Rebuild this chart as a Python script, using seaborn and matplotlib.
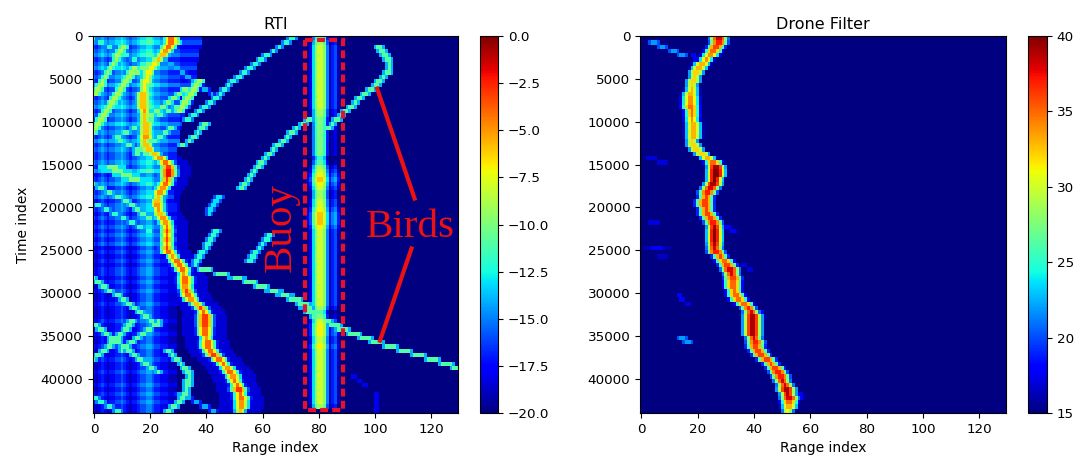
import numpy as np
import pandas as pd
import matplotlib
matplotlib.use("Agg")
import matplotlib.pyplot as plt
from matplotlib.patches import Rectangle
import seaborn as sns

# one row of cells = 500 time samples, one column = 1 range bin
n_rows = 88
n_cols = 130
time_step = 500

# drone range, one value per row
drone_range = [28, 28, 27, 26, 25, 23.5, 22, 21, 20, 19.5, 19, 18.5, 18.5, 18, 18, 18, 18, 18.5, 18.5, 18.5,
               19, 19, 19, 19, 18.5, 19, 20, 22, 24, 26, 27, 27, 27, 26.5, 26, 25, 24, 23.5, 23, 23,
               23.5, 24, 25, 26, 26.5, 26.5, 26.5, 26.5, 26.5, 26.5, 27, 28.5, 30, 31, 32, 32.5, 33, 33, 33, 33.5,
               34, 35, 37, 38.5, 39.5, 40, 40, 40, 40, 40, 40.5, 41, 41, 42, 43, 45, 46.5, 48, 49, 50,
               50.5, 51.5, 52, 52.5, 53, 53, 53, 52.5]
# filter output peak, dB
drone_peak = [38, 37, 36, 35, 34, 34, 33, 33, 32, 32, 32, 32, 33, 33, 34, 34, 35, 35, 35, 34,
              33, 33, 33, 33, 32, 32, 32, 32, 33, 35, 39, 40, 40, 40, 39, 38, 37, 36, 36, 36,
              36, 36, 36, 37, 39, 40, 40, 40, 39, 38, 37, 36, 35, 36, 38, 38, 36, 35, 35, 35,
              35, 35, 35, 37, 38, 39, 39, 39, 39, 39, 38, 37, 36, 36, 36, 36, 36, 36, 37, 37,
              38, 38, 39, 39, 38, 35, 33, 31]
# same drone in the RTI, dB
rti_peak = [-4, -4, -4, -5, -6, -6, -7, -7, -7, -7, -7, -7, -7, -6, -6, -6, -6, -5, -6, -6,
            -6, -6, -6, -5, -6, -6, -6, -6, -5, -4, -3, -2, -2, -3, -4, -5, -5, -6, -6, -5,
            -5, -6, -5, -5, -4, -3, -4, -3, -4, -3, -4, -5, -4, -4, -4, -5, -4, -4, -5, -3,
            -4, -5, -6, -3, -4, -3, -3, -3, -4, -4, -5, -4, -4, -4, -3, -4, -4, -5, -4, -5,
            -4, -4, -3, -4, -4, -5, -5, -6]
# buoy brightness per row
buoy_peak = [-10, -9, -8, -8, -8, -8, -8, -8, -8, -8, -8, -8, -8, -8, -8, -8, -8, -9, -9, -10,
             -10, -10, -10, -10, -10, -10, -10, -10, -12, -11, -9, -8, -7, -6, -7, -8, -9, -9, -8, -8,
             -7, -6, -6, -6, -7, -8, -8, -8, -8, -8, -8, -8, -8, -8, -8, -8, -8, -8, -8, -8,
             -8, -8, -8, -9, -11, -10, -8, -7, -7, -7, -8, -8, -7, -8, -8, -8, -8, -8, -8, -8,
             -8, -8, -8, -8, -8, -8, -9, -20]
# brightness across the buoy, columns 76..87
buoy_cols = list(range(76, 88))
buoy_shape = [-12, -10, -5, -2, 0, 0, -2, -7, -11, -9, -8, -11]

# clutter near the radar: how far it reaches, level per row, stripes per column
clutter_edge = [39, 39, 39, 38, 38, 38, 37, 37, 37, 37, 38, 38, 37, 37, 36, 36, 35, 34, 33, 33,
                32, 32, 31, 31, 31, 30, 30, 30, 30, 30, 30, 29, 29, 29, 29, 29, 29, 29, 29, 30,
                30, 30, 30, 30, 30, 30, 30, 30, 30, 30, 30, 30, 30, 30, 30, 30, 30, 30, 30, 30,
                30, 30, 30, 30, 30, 30, 30, 30, 30, 30, 30, 30, 30, 30, 30, 30, 30, 30, 30, 30,
                30, 30, 30, 30, 30, 30, 30, 30]
clutter_level = [-15, -14, -16, -15, -14, -16, -15, -14, -16, -15, -16, -14, -16, -15, -16, -15, -14, -16, -15, -16,
                 -14, -16, -15, -16, -14, -16, -15, -16, -16, -15, -16, -14, -17, -16, -15, -17, -16, -15, -17, -16,
                 -16, -17, -16, -17, -16, -17, -16, -17, -16, -18, -17, -18, -17, -18, -17, -17, -18, -17, -18, -17,
                 -18, -18, -17, -18, -18, -18, -17, -18, -18, -17, -18, -18, -17, -18, -18, -17, -18, -18, -17, -18,
                 -18, -17, -18, -17, -18, -17, -18, -18]
clutter_cols = [0, -1, 0, 1, 0, -1, 0, 0, 1, 1, 2, 1, 0, -1, 0, 0, 1, 2, 2, 3,
                3, 2, 1, 1, 0, 0, 0, -1, -1, -1, -1, -2, -2, -2, -2, -2, -2, -2, -2, -2]

# faint tracks: start time, level, half width in bins, range per row
rti_tracks = [
    (250, -12, 0.9, [71, 69, 66.5, 64.5, 62, 60, 58, 56, 54, 52, 50, 48.5, 47, 45.5, 44, 42, 40, 38, 36, 34]),
    (10250, -11, 0.9, [40, 39, 37.5, 36, 34.5, 32]),
    (1250, -11, 0.9, [102, 103, 104, 105, 105.5, 105.5, 105, 103.5, 102, 101, 99, 97, 95, 93.5, 92, 90, 88.5, 87, 85.5, 84]),
    (9250, -11, 0.9, [80, 77, 75, 72.5, 71, 69.5, 68, 66, 64.5, 63, 61.5, 60, 59, 57.5, 56.5, 55.5, 54, 53]),
    (18750, -13, 0.9, [45, 44, 43, 42, 41.5]),
    (22750, -12, 0.9, [44, 43, 42, 41, 40.5, 39, 38, 37, 36.5]),
    (23250, -12, 0.9, [63, 62, 60.5, 59.5, 58, 57, 56]),
    (27250, -11, 1.7, [40, 46, 51.5, 56, 60, 64.5, 68.5, 72, 75, 76.5, 78, 80, 83, 86, 89, 93, 97, 101, 106, 111, 116, 121, 126, 130]),
    (1250, -9, 1, [11, 10, 9, 8.5, 7.5, 6.5, 5.5, 4.5, 3.5, 3, 2, 1]),
    (3750, -9, 1, [15, 14, 13, 12, 11, 10, 9, 8, 7, 6, 5, 4, 3, 2, 1, 0]),
    (5250, -9, 1, [38, 37, 36, 35, 34, 33, 32, 31]),
    (2250, -14, 1, [24, 26, 28, 30, 32, 34, 36, 38, 40, 42.5]),
    (250, -12, 1, [0, 3, 6, 9, 12, 15, 18, 20]),
    (500, -10, 1, [30, 28, 26, 24, 22, 20, 18, 16]),
    (6250, -10, 1, [33, 31, 29, 27, 25, 23, 21]),
    (8250, -11, 1, [30, 27, 24, 21, 18, 15, 12, 9]),
    (10750, -11, 1, [28, 26, 24, 22, 20, 18, 16]),
    (12250, -11, 1, [10, 13, 16, 19, 22, 25, 27]),
    (15250, -10, 2.5, [7, 9, 12, 15]),
    (17250, -11, 1, [0, 3, 6, 9, 12, 14, 16, 18, 20]),
    (19750, -12, 1, [2, 5, 8, 11, 14, 17, 20]),
    (28000, -11, 0.9, [0, 2, 4, 6, 9, 11, 13, 15, 17, 19, 21, 23.5]),
    (33500, -11, 0.9, [1, 3, 5, 7, 9, 11, 13, 15, 17, 19, 21, 23.5]),
    (33000, -11, 0.9, [14, 13, 12, 10, 9, 7, 6, 4, 2, 0]),
    (33250, -11, 0.9, [23.5, 22, 20, 18, 16, 14, 12, 10.5]),
    (36500, -11, 0.9, [27, 28.5, 30, 31.5, 33, 34, 34.5, 34.3, 34, 33.5, 33, 32, 31, 29, 27, 25.5, 24, 22.5, 20]),
    (41500, -14, 0.9, [31, 34, 37, 40, 43, 46, 49, 51]),
    (42250, -12, 0.9, [1, 3, 6, 9, 12, 16]),
    (39750, -18, 0.9, [93, 95, 97]),
    (41750, -18, 0.7, [101, 101, 101, 101, 101]),
]
filter_tracks = [
    (750, 22, 1.2, [5, 8, 12, 15]),
    (2250, 18, 0.7, [19, 20]),
    (14250, 17, 2.5, [4, 8]),
    (21750, 17, 2.5, [5]),
    (24500, 18, 2.5, [6]),
    (25500, 16.5, 2.5, [8]),
    (30250, 18, 0.7, [14, 15]),
    (31250, 17, 0.6, [17]),
    (35250, 22, 1.2, [15, 17]),
    (26500, 17, 1, [37, 39]),
    (32000, 18, 0.6, [43, 43.5]),
    (22250, 18, 1, [31, 33]),
    (41750, 18, 0.6, [57, 57.5]),
]

range_ticks = [0, 20, 40, 60, 80, 100, 120]
time_ticks = [0, 5000, 10000, 15000, 20000, 25000, 30000, 35000, 40000]
rti_cbar_ticks = [0.0, -2.5, -5.0, -7.5, -10.0, -12.5, -15.0, -17.5, -20.0]
filter_cbar_ticks = [15, 20, 25, 30, 35, 40]

# annotation coordinates, data units (range, time)
buoy_box = (75.5, 450, 13.5, 43200)
bird_lines = [((101, 5900), (114.8, 19200)), ((102, 35800), (113.7, 24560))]


def paint(grid, row, center, level, drop, spread=1.0):
    # brighten the cells around one reading, never dim them
    for col in range(n_cols):
        d = abs(col + 0.5 - center) / spread
        i = int(d)
        if i < len(drop):
            grid[row, col] = max(grid[row, col], level + drop[i])


rti = np.full((n_rows, n_cols), -20.0)
for r in range(n_rows):
    for c in range(clutter_edge[r]):
        v = clutter_level[r] + clutter_cols[c]
        rti[r, c] = max(-20, min(v, -11))
    for c, s in zip(buoy_cols, buoy_shape):
        rti[r, c] = buoy_peak[r] + s
    paint(rti, r, drone_range[r], -18.5, [0] * 8)
    paint(rti, r, drone_range[r], rti_peak[r], [0, -3, -8, -13])
for start, level, spread, ranges in rti_tracks:
    for k, v in enumerate(ranges):
        row = int(start / time_step) + k
        if row < n_rows:
            paint(rti, row, v, level, [0, -3], spread)

drone = np.full((n_rows, n_cols), 15.0)
for start, level, spread, ranges in filter_tracks:
    for k, v in enumerate(ranges):
        paint(drone, int(start / time_step) + k, v, level, [0, -2], spread)
for r in range(n_rows):
    paint(drone, r, drone_range[r], drone_peak[r], [0, -3, -10, -17])

rows = pd.Index(np.arange(n_rows) * time_step, name="Time index")
cols = pd.Index(np.arange(n_cols), name="Range index")
rti_df = pd.DataFrame(rti, index=rows, columns=cols)
drone_df = pd.DataFrame(drone, index=rows, columns=cols)

W, H = 1082, 461
fig = plt.figure(figsize=(W / 100, H / 100), dpi=100)


def box(x0, x1, y0=36, y1=413):
    return [x0 / W, 1 - y1 / H, (x1 - x0) / W, (y1 - y0) / H]


ax1 = fig.add_axes(box(92.5, 458))
cax1 = fig.add_axes(box(480, 498))
ax2 = fig.add_axes(box(640, 1006))
cax2 = fig.add_axes(box(1028, 1047))

sns.heatmap(rti_df, ax=ax1, cbar_ax=cax1, cmap="jet", vmin=-20, vmax=0, xticklabels=False, yticklabels=False)
sns.heatmap(drone_df, ax=ax2, cbar_ax=cax2, cmap="jet", vmin=15, vmax=40, xticklabels=False, yticklabels=False)

for ax, title, cax, cticks in [(ax1, "RTI", cax1, rti_cbar_ticks), (ax2, "Drone Filter", cax2, filter_cbar_ticks)]:
    ax.set_title(title, fontsize=11.5, pad=5)
    ax.set_xticks([v + 0.5 for v in range_ticks])
    ax.set_xticklabels(range_ticks, rotation=0)
    ax.set_yticks([v / time_step for v in time_ticks])
    ax.set_yticklabels(time_ticks, rotation=0)
    ax.tick_params(length=3.5, width=0.8, labelsize=9.7, left=True, bottom=True)
    ax.set_xlabel("Range index", fontsize=10)
    ax.set_ylabel("")
    for spine in ax.spines.values():
        spine.set_visible(True)
        spine.set_linewidth(0.8)
    cbar = ax.collections[0].colorbar
    cbar.set_ticks(cticks)
    cbar.outline.set_visible(True)
    cbar.outline.set_linewidth(0.8)
    cax.tick_params(length=3.5, width=0.8, labelsize=9.7)
ax1.set_ylabel("Time index", fontsize=10, labelpad=7)

ax1.add_patch(Rectangle((buoy_box[0], buoy_box[1] / time_step), buoy_box[2], buoy_box[3] / time_step,
                        fill=False, edgecolor="#e8112d", linewidth=3, linestyle=(0, (1.9, 1.0))))
for (a, b) in bird_lines:
    ax1.plot([a[0], b[0]], [a[1] / time_step, b[1] / time_step], color="#ee1111", linewidth=3, solid_capstyle="butt")
ax1.text(67, 22400 / time_step, "Buoy", color="#ee1111", family="Liberation Serif", fontsize=29.5,
         rotation=90, ha="center", va="center")
ax1.text(113, 22400 / time_step, "Birds", color="#ee1111", family="Liberation Serif", fontsize=29.5,
         ha="center", va="center")

fig.savefig("out.png", dpi=100)
